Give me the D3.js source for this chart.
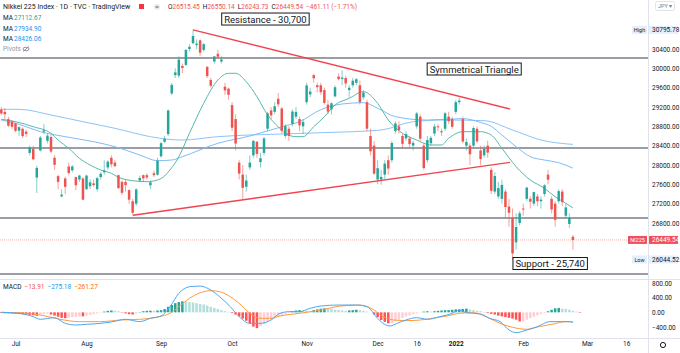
<!DOCTYPE html>
<html>
<head>
<meta charset="utf-8">
<script src="https://cdn.jsdelivr.net/npm/d3@7"></script>
<style>
  body { margin: 0; background: #fff; }
  svg text { font-family: Roboto, "Liberation Sans", sans-serif; }
</style>
</head>
<body>
<script>
// Nikkei 225, velas diarias 25 jun 2021 -> 22 feb 2022 (indice 0 = 1 jul)
const primerIndice = -4;

const opens = [
  29150, 29100, 28950, 28900, 28860, 28710, 28750, 28690, 28250, 28330,
  27740, 28300, 28690, 28500, 28580, 28150, 27770, 27350, 27720, 27970,
  27890, 27750, 27700, 27720, 27500, 27560, 27620, 27500, 27750, 27850,
  27950, 28150, 28050, 27790, 27650, 27650, 27480, 27250, 27200, 27680,
  27790, 27790, 27580, 27830, 27800, 28180, 28480, 28640, 29480, 29860,
  29850, 30050, 30070, 30400, 30520, 30480, 30580, 30380, 30030, 29760,
  30140, 30300, 30140, 29620, 29580, 29240, 28950, 28050, 27800, 27550,
  27950, 28200, 28480, 28060, 28250, 28750, 29130, 29100, 29370, 29170,
  28600, 28750, 28850, 29000, 28950, 28800, 29300, 29460, 29860, 29650,
  29650, 29550, 29250, 29150, 29420, 29830, 29780, 29800, 29550, 29650,
  29700, 29650, 29400, 29300, 28600, 28400, 27700, 27700, 27800, 28100,
  28100, 28700, 28800, 28600, 28550, 28550, 28400, 28800, 29000, 28400,
  28100, 28450, 28650, 28800, 28700, 28750, 29000, 28950, 29100, 29300,
  28950, 28400, 28400, 28400, 28750, 28300, 28200, 28400, 27900, 27450,
  27350, 27300, 27450, 27140, 26900, 26400, 26800, 27100, 27300, 27300,
  27200, 27350, 27250, 27400, 27800, 27300, 27200, 27250, 27450, 26950,
  26780, 26515.45
];
const highs = [
  29200, 29180, 29000, 28930, 28880, 28800, 28780, 28730, 28400, 28400,
  27990, 28600, 28852, 28650, 28620, 28200, 27800, 27500, 27760, 28050,
  28000, 27760, 27800, 27750, 27800, 27700, 27700, 27750, 27850, 28100,
  28100, 28200, 28100, 27800, 27680, 27700, 27500, 27300, 27520, 27780,
  27800, 27830, 27680, 27880, 28150, 28480, 28600, 29150, 29700, 30000,
  30250, 30100, 30400, 30500, 30795.78, 30600, 30600, 30520, 30050, 29800,
  30250, 30380, 30250, 29700, 29600, 29300, 29050, 28100, 28000, 27800,
  28200, 28520, 28500, 28250, 28580, 29100, 29200, 29300, 29490, 29200,
  28850, 28800, 29150, 29200, 29000, 28950, 29700, 29600, 29880, 29700,
  29700, 29600, 29350, 29300, 29650, 29900, 29960, 29850, 29650, 29800,
  29800, 29750, 29550, 29350, 28750, 28500, 28100, 27900, 28100, 28200,
  28500, 28900, 28900, 28650, 28700, 28600, 28500, 29100, 29050, 28450,
  28600, 28600, 28850, 28850, 28750, 29100, 29100, 29000, 29350, 29388,
  29000, 28550, 28450, 28800, 28800, 28400, 28400, 28500, 27950, 27850,
  27650, 27700, 27500, 27300, 27100, 27000, 27050, 27200, 27550, 27350,
  27450, 27400, 27350, 27600, 27900, 27350, 27250, 27500, 27500, 27200,
  27000, 26550.14
];
const lows = [
  29030, 28950, 28780, 28750, 28680, 28600, 28560, 28580, 28200, 28100,
  27419, 28280, 28640, 28450, 28250, 27900, 27500, 27330, 27400, 27800,
  27850, 27480, 27650, 27270, 27480, 27500, 27550, 27450, 27700, 27800,
  27900, 27950, 27950, 27500, 27380, 27450, 27200, 26954, 27150, 27650,
  27650, 27700, 27500, 27750, 27780, 28150, 28450, 28600, 29450, 29800,
  29800, 29900, 30050, 30350, 30500, 30400, 30250, 30350, 29800, 29600,
  30100, 30200, 30100, 29450, 29350, 28700, 28300, 27700, 27293, 27450,
  27900, 28150, 28150, 27950, 28200, 28700, 28950, 29050, 29200, 28650,
  28550, 28500, 28800, 28950, 28700, 28650, 29250, 29400, 29700, 29500,
  29450, 29250, 29050, 29050, 29400, 29750, 29650, 29600, 29400, 29600,
  29650, 29250, 29350, 28700, 28200, 27800, 27600, 27590, 27700, 27800,
  28050, 28650, 28650, 28350, 28500, 28350, 28300, 28750, 28500, 27900,
  28050, 28400, 28600, 28700, 28600, 28700, 28850, 28750, 29050, 29250,
  28450, 28300, 28000, 28350, 28450, 28000, 28150, 28150, 27400, 27400,
  27300, 27200, 26900, 26720, 26044.52, 26250, 26750, 26950, 27250, 27100,
  27150, 27150, 27100, 27350, 27600, 27000, 26725, 27200, 27150, 26900,
  26700, 26243.73
];
const closes = [
  29066, 29048, 28812, 28791, 28707, 28783, 28598, 28643, 28366, 28118,
  27940, 28569, 28718, 28608, 28279, 28003, 27652, 27388, 27548, 27833,
  27970, 27581, 27782, 27283, 27781, 27641, 27584, 27728, 27820, 27888,
  28070, 28015, 27977, 27523, 27424, 27585, 27281, 27013, 27494, 27732,
  27724, 27742, 27641, 27789, 28089, 28451, 28543, 29128, 29659, 29916,
  30181, 30008, 30381, 30447, 30670, 30511, 30323, 30500, 29839, 29639,
  30248, 30240, 30183, 29544, 29452, 28771, 28444, 27822, 27528, 27678,
  28048, 28498, 28230, 28140, 28550, 29068, 29025, 29215, 29255, 28708,
  28804, 28600, 29106, 29098, 28820, 28892, 29647, 29520, 29794, 29611,
  29507, 29285, 29106, 29277, 29609, 29776, 29808, 29688, 29598, 29745,
  29774, 29302, 29499, 28751, 28283, 27821, 27935, 27753, 28029, 27927,
  28455, 28860, 28725, 28437, 28640, 28432, 28459, 29066, 28545, 27937,
  28517, 28562, 28798, 28782, 28676, 29069, 28906, 28791, 29301, 29332,
  28487, 28478, 28222, 28765, 28489, 28124, 28333, 28257, 27467, 27772,
  27522, 27588, 27131, 27011, 26170, 26717, 27002, 27078, 27533, 27241,
  27439, 27249, 27284, 27580, 27696, 27080, 26865, 27460, 27232, 27122,
  26910.65, 26449.54
];

// medias moviles: [indice, valor]
const ma20 = [[-4,28946],[0,28896],[5,28792],[10,28656],[12,28517],[15,28346],[18,28139],[21,28000],[24,27897],[27,27828],[29,27746],[33,27675],[37,27655],[40,27690],[42,27772],[43.5,27897],[45.5,28103],[49,28656],[53,29277],[57,29759],[60,29897],[62,29897],[65,29723],[68,29413],[71,29035],[74,28792],[76,28656],[79,28586],[81,28586],[84,28792],[87,28999],[90,29241],[94,29380],[98,29517],[102,29277],[105,28931],[109,28656],[113,28517],[117,28414],[120,28414],[122,28552],[126,28689],[131,28689],[134,28621],[137,28346],[141,27965],[145,27690],[149,27518],[152,27344],[155,27208],[157,27112.67]];
const ma50 = [[-4,28931],[1,28842],[7,28689],[14,28586],[22,28482],[28,28379],[35,28207],[40,28089],[44,28103],[47,28172],[57,28449],[66,28600],[75,28792],[80,28896],[86,29145],[92,29262],[98,29290],[102,29175],[107,29000],[116,28930],[126,28960],[131,28880],[134,28800],[137,28621],[141,28379],[145,28172],[149,28103],[153,28048],[157,27934.90]];
const ma100 = [[-4,29152],[1,29152],[10,29035],[19,28896],[28,28759],[38,28586],[43,28532],[47,28517],[57,28586],[66,28621],[75,28641],[86,28668],[103,28724],[112,28896],[121,28931],[132,28917],[140,28724],[148,28517],[157,28426.06]];

const macdLinea = [[-4,0],[1,-27],[5,-118],[7,-190],[11,-145],[14,-300],[17,-345],[20,-327],[24,-300],[27.5,-254],[31,-190],[35,-254],[38,-163],[41,-100],[43.5,154],[46,517],[49,698],[52,716],[55,607],[57.5,426],[60.5,154],[63,-118],[66,-300],[69,-300],[72,-209],[74.5,-27],[77,18],[80,18],[83,109],[86,172],[91,199],[96,199],[99,154],[102,-163],[103.5,-300],[105.5,-372],[107.5,-300],[110,-209],[113,-145],[116,-190],[119.5,-118],[123,-27],[125,63],[127,-9],[131,-45],[133.5,-163],[136.5,-254],[139,-481],[141,-554],[144,-481],[147,-390],[150.5,-254],[153.5,-254],[156,-254],[157,-275.18]];
const macdSenal = [[-4,0],[1,-10],[7,-73],[12.5,-190],[18,-254],[24,-254],[29.5,-209],[35,-190],[40.5,-118],[43.5,-27],[46,154],[49,381],[52,535],[55,590],[57.5,563],[60.5,426],[63,245],[66,-27],[69,-163],[72,-163],[74.5,-100],[80,-27],[86,63],[89.5,136],[91.5,172],[97,199],[101,63],[103.5,-118],[106.5,-209],[110,-227],[114,-209],[117.5,-163],[121.5,-100],[125,-27],[129,-9],[132.5,-118],[136.5,-300],[140,-408],[144,-463],[147.5,-390],[151.5,-318],[155,-254],[157,-261.27]];
const macdHist = [
  -20, -25, -30, -35, -40, -45, -55, -60, -70, -80,
  -95, -70, -50, -40, -60, -90, -120, -150, -160, -150,
  -130, -120, -110, -110, -90, -70, -50, -30, -10, 20,
  40, 50, 45, 30, -10, -30, -50, -60, -40, 10,
  30, 40, 45, 40, 50, 60, 90, 150, 200, 250,
  280, 300, 290, 280, 270, 250, 230, 210, 180, 150,
  120, 90, 60, 30, 10, -20, -60, -110, -170, -230,
  -300, -390, -430, -380, -320, -260, -200, -150, -110, -80,
  -50, -20, 30, 50, 60, 50, 40, 30, 60, 80,
  100, 110, 100, 90, 70, 60, 50, 40, 50, 60,
  70, 60, 40, 20, 0, -60, -130, -210, -260, -300,
  -290, -250, -200, -150, -110, -80, -50, -30, -10, 20,
  30, 20, 30, 40, 50, 60, 60, 70, 80, 80,
  90, 100, 80, 60, 40, 30, 10, -20, -40, -60,
  -90, -110, -130, -150, -170, -200, -250, -240, -200, -160,
  -120, -80, -50, -20, 30, 70, 110, 120, 100, 90,
  70, 40, 20, -13.91
];

// niveles horizontales, lineas de tendencia y notas
const niveles = [30214, 28352, 26903, 25745];
const lineaSuperior = [[50, 30795.78], [139.3, 29159]];
const lineaInferior = [[33.1, 26960], [139.3, 28055]];
const notas = [
  ["Resistance - 30,700", 70.4, 31020],
  ["Symmetrical Triangle", 129.2, 29986],
  ["Support - 25,740", 150.6, 25962]
];

// ejes (las marcas tapadas por etiquetas no se dibujan)
const ticksPrecio = [30400, 30000, 29600, 29200, 28800, 28400, 28000, 27600, 27200, 26800];
const ticksMacd = [800, 400, 0, -400];
const ticksTiempo = [0, 20, 41, 61, 82, 102, 113, 124, 143, 161, 172];
const etiquetasTiempo = ["Jul", "Aug", "Sep", "Oct", "Nov", "Dec", "16", "2022", "Feb", "Mar", "16"];

// ---------------- configuracion ----------------
const width = 680, height = 353;
const plotRight = 648;
const mainBottom = 279;
const macdTop = 280, macdBottom = 338;

const verde = "#26a69a", rojo = "#ef5350";

const svg = d3.select("body").append("svg")
  .attr("width", width).attr("height", height)
  .style("display", "block");

const x = d3.scaleLinear().domain([0, 157]).range([15.5, 572.9]);
const y = d3.scaleLinear().domain([26800, 30400]).range([223, 49]);
const yM = d3.scaleLinear().domain([-400, 800]).range([327, 283]);

const defs = svg.append("defs");
defs.append("clipPath").attr("id", "clipMain").append("rect")
  .attr("x", 0).attr("y", 0).attr("width", plotRight).attr("height", mainBottom);
defs.append("clipPath").attr("id", "clipMacd").append("rect")
  .attr("x", 0).attr("y", macdTop).attr("width", plotRight).attr("height", macdBottom - macdTop);

const velas = closes.map((c, k) => ({
  i: k + primerIndice, o: opens[k], h: highs[k], l: lows[k], c: c
}));

const main = svg.append("g").attr("clip-path", "url(#clipMain)");

// niveles grises
main.selectAll(".nivel").data(niveles).enter().append("line")
  .attr("x1", 0).attr("x2", plotRight)
  .attr("y1", d => y(d)).attr("y2", d => y(d))
  .attr("stroke", "#7b7e87").attr("stroke-width", 1.5);

// medias moviles
const lineaMA = d3.line().x(d => x(d[0])).y(d => y(d[1])).curve(d3.curveMonotoneX);
[[ma100, "#8cc4f7"], [ma50, "#7fbcf5"], [ma20, "#58b8ab"]].forEach(([serie, color]) => {
  main.append("path").datum(serie)
    .attr("d", lineaMA).attr("fill", "none")
    .attr("stroke", color).attr("stroke-width", 1);
});

// velas
const gVelas = main.append("g");
gVelas.selectAll(".mecha").data(velas).enter().append("line")
  .attr("x1", d => x(d.i)).attr("x2", d => x(d.i))
  .attr("y1", d => y(d.h)).attr("y2", d => y(d.l))
  .attr("stroke", d => d.c >= d.o ? verde : rojo)
  .attr("stroke-opacity", 0.55).attr("stroke-width", 1);
gVelas.selectAll(".cuerpo").data(velas).enter().append("rect")
  .attr("x", d => x(d.i) - 1.25).attr("width", 2.5)
  .attr("y", d => y(Math.max(d.o, d.c)))
  .attr("height", d => Math.max(1, Math.abs(y(d.o) - y(d.c))))
  .attr("fill", d => d.c >= d.o ? verde : rojo);

// linea del ultimo precio
const ultimo = closes[closes.length - 1];
main.append("line")
  .attr("x1", 0).attr("x2", plotRight)
  .attr("y1", y(ultimo)).attr("y2", y(ultimo))
  .attr("stroke", rojo).attr("stroke-opacity", 0.45)
  .attr("stroke-dasharray", "1,1");

// lineas del triangulo
[lineaSuperior, lineaInferior].forEach(l => {
  main.append("line")
    .attr("x1", x(l[0][0])).attr("y1", y(l[0][1]))
    .attr("x2", x(l[1][0])).attr("y2", y(l[1][1]))
    .attr("stroke", "#f0444e").attr("stroke-width", 1.4);
});

// notas con recuadro
notas.forEach(([texto, idx, precio]) => {
  const g = svg.append("g");
  const t = g.append("text")
    .attr("x", x(idx)).attr("y", y(precio))
    .attr("text-anchor", "middle").attr("dominant-baseline", "central")
    .style("font-size", "9.5px").attr("fill", "#131722")
    .text(texto);
  const bb = t.node().getBBox();
  g.insert("rect", "text")
    .attr("x", bb.x - 2.5).attr("y", bb.y - 0.5)
    .attr("width", bb.width + 5).attr("height", bb.height + 1)
    .attr("fill", "#fff").attr("stroke", "#131722").attr("stroke-width", 1);
});

// ---------------- panel MACD ----------------
const macdG = svg.append("g").attr("clip-path", "url(#clipMacd)");
const hist = macdHist.map((v, k) => ({ i: k + primerIndice, v: v, prev: k > 0 ? macdHist[k - 1] : v }));
function colorHist(d) {
  if (d.v >= 0) return d.v >= d.prev ? "#26a69a" : "#b2dfdb";
  return d.v <= d.prev ? "#ff5252" : "#ffcdd2";
}
macdG.selectAll(".hist").data(hist).enter().append("rect")
  .attr("x", d => x(d.i) - 1.25).attr("width", 2.5)
  .attr("y", d => Math.min(yM(0), yM(d.v)))
  .attr("height", d => Math.abs(yM(d.v) - yM(0)))
  .attr("fill", colorHist);
const lineaMacd = d3.line().x(d => x(d[0])).y(d => yM(d[1])).curve(d3.curveMonotoneX);
macdG.append("path").datum(macdSenal).attr("d", lineaMacd)
  .attr("fill", "none").attr("stroke", "#ff9a3c").attr("stroke-width", 1);
macdG.append("path").datum(macdLinea).attr("d", lineaMacd)
  .attr("fill", "none").attr("stroke", "#4aa8f5").attr("stroke-width", 1);

// separadores
svg.append("line").attr("x1", 0).attr("x2", width).attr("y1", macdTop - 0.5).attr("y2", macdTop - 0.5)
  .attr("stroke", "#e0e3eb");
svg.append("line").attr("x1", 0).attr("x2", width).attr("y1", macdBottom + 0.5).attr("y2", macdBottom + 0.5)
  .attr("stroke", "#e0e3eb");
svg.append("line").attr("x1", plotRight + 0.5).attr("x2", plotRight + 0.5).attr("y1", 0).attr("y2", height)
  .attr("stroke", "#e0e3eb");

// ---------------- ejes ----------------
const ejeY = d3.axisRight(y).tickValues(ticksPrecio).tickFormat(d3.format(".2f")).tickSize(0).tickPadding(4);
svg.append("g").attr("transform", `translate(${plotRight},0)`).call(ejeY)
  .call(g => g.select(".domain").remove())
  .selectAll("text").style("font-size", "6.5px").attr("fill", "#131722").style("font-family", "Roboto");

const ejeM = d3.axisRight(yM).tickValues(ticksMacd).tickFormat(d3.format(".2f")).tickSize(0).tickPadding(4);
svg.append("g").attr("transform", `translate(${plotRight},0)`).call(ejeM)
  .call(g => g.select(".domain").remove())
  .selectAll("text").style("font-size", "6.5px").attr("fill", "#131722").style("font-family", "Roboto");

const ejeX = d3.axisBottom(x).tickValues(ticksTiempo).tickFormat((d, k) => etiquetasTiempo[k]).tickSize(0).tickPadding(3);
svg.append("g").attr("transform", `translate(0,${macdBottom})`).call(ejeX)
  .call(g => g.select(".domain").remove())
  .selectAll("text").style("font-size", "6.5px").attr("fill", "#131722").style("font-family", "Roboto")
  .style("font-weight", (d, k) => etiquetasTiempo[k] === "2022" ? "bold" : "normal");

// etiquetas sobre el eje de precios
function etiquetaEje(precio, nombre, valor, fondo, colorTexto, anchoNombre) {
  const yy = y(precio);
  const g = svg.append("g");
  g.append("rect").attr("x", plotRight + 1).attr("y", yy - 4).attr("width", 29).attr("height", 8).attr("fill", fondo);
  g.append("text").attr("x", plotRight + 4).attr("y", yy).attr("dominant-baseline", "central")
    .style("font-size", "6.5px").attr("fill", colorTexto).text(valor);
  g.append("rect").attr("x", plotRight - anchoNombre).attr("y", yy - 4).attr("width", anchoNombre - 1).attr("height", 8).attr("fill", fondo);
  g.append("text").attr("x", plotRight - anchoNombre / 2 - 0.5).attr("y", yy).attr("text-anchor", "middle")
    .attr("dominant-baseline", "central").style("font-size", "5.5px").attr("fill", colorTexto).text(nombre);
}
const maxAlto = d3.max(highs), minBajo = d3.min(lows);
etiquetaEje(maxAlto, "High", d3.format(".2f")(maxAlto), "#e3effd", "#131722", 16);
etiquetaEje(minBajo, "Low", d3.format(".2f")(minBajo), "#e3effd", "#131722", 16);
etiquetaEje(ultimo, "NI225", d3.format(".2f")(ultimo), "#f0515a", "#ffffff", 20);

// boton JPY
svg.append("rect").attr("x", 655.5).attr("y", 1.5).attr("width", 19).attr("height", 9).attr("rx", 2)
  .attr("fill", "#fff").attr("stroke", "#e0e3eb");
svg.append("text").attr("x", 665).attr("y", 6).attr("text-anchor", "middle").attr("dominant-baseline", "central")
  .style("font-size", "5.5px").attr("fill", "#787b86").text("JPY ▾");

// engranaje
svg.append("circle").attr("cx", 663).attr("cy", 345).attr("r", 2.6)
  .attr("fill", "none").attr("stroke", "#131722").attr("stroke-width", 1);

// ---------------- leyenda ----------------
svg.append("text").attr("x", 3).attr("y", 7).attr("dominant-baseline", "central")
  .style("font-size", "7px").attr("fill", "#131722")
  .text("Nikkei 225 Index · 1D · TVC · TradingView");
svg.append("rect").attr("x", 139).attr("y", 4).attr("width", 5).attr("height", 5).attr("fill", "#f23645");
svg.append("circle").attr("cx", 157).attr("cy", 7).attr("r", 3).attr("fill", "#e8e9ec");
svg.append("line").attr("x1", 155.5).attr("x2", 158.5).attr("y1", 7).attr("y2", 7).attr("stroke", "#555");

const last = closes.length - 1;
const cambio = closes[last] - closes[last - 1];
const ohlc = svg.append("text").attr("x", 168).attr("y", 7).attr("dominant-baseline", "central")
  .style("font-size", "6.5px");
[["O", opens[last]], ["H", highs[last]], ["L", lows[last]], ["C", closes[last]]].forEach(([k, v], n) => {
  ohlc.append("tspan").attr("fill", "#131722").attr("dx", n ? 3 : 0).text(k);
  ohlc.append("tspan").attr("fill", rojo).text(d3.format(".2f")(v));
});
ohlc.append("tspan").attr("fill", rojo).attr("dx", 3)
  .text(d3.format(".2f")(cambio).replace("-", "−") + " (" + d3.format(".2f")(cambio / closes[last - 1] * 100).replace("-", "−") + "%)");

const leyendaMA = [[ma20, "#26a69a", 18], [ma50, "#2196f3", 29], [ma100, "#2196f3", 39]];
leyendaMA.forEach(([serie, color, yy]) => {
  svg.append("text").attr("x", 3).attr("y", yy).attr("dominant-baseline", "central")
    .style("font-size", "6.5px").attr("fill", "#131722").text("MA");
  svg.append("text").attr("x", 14).attr("y", yy).attr("dominant-baseline", "central")
    .style("font-size", "6.5px").attr("fill", color)
    .text(d3.format(".2f")(serie[serie.length - 1][1]));
});
svg.append("text").attr("x", 3).attr("y", 49).attr("dominant-baseline", "central")
  .style("font-size", "6.5px").attr("fill", "#9598a1").text("Pivots");
svg.append("ellipse").attr("cx", 26).attr("cy", 49).attr("rx", 3).attr("ry", 1.8)
  .attr("fill", "none").attr("stroke", "#787b86").attr("stroke-width", 0.8);
svg.append("line").attr("x1", 23).attr("x2", 29).attr("y1", 51.5).attr("y2", 46.5)
  .attr("stroke", "#787b86").attr("stroke-width", 0.8);

// leyenda MACD
const ultimoHist = macdHist[macdHist.length - 1];
const leyM = svg.append("text").attr("x", 3).attr("y", 287).attr("dominant-baseline", "central")
  .style("font-size", "6.5px");
leyM.append("tspan").attr("fill", "#131722").text("MACD");
[[ultimoHist, rojo], [macdLinea[macdLinea.length - 1][1], "#2196f3"], [macdSenal[macdSenal.length - 1][1], "#ff6d00"]]
  .forEach(([v, c]) => {
    leyM.append("tspan").attr("dx", 3).attr("fill", c).text(d3.format(".2f")(v).replace("-", "−"));
  });
</script>
</body>
</html>
